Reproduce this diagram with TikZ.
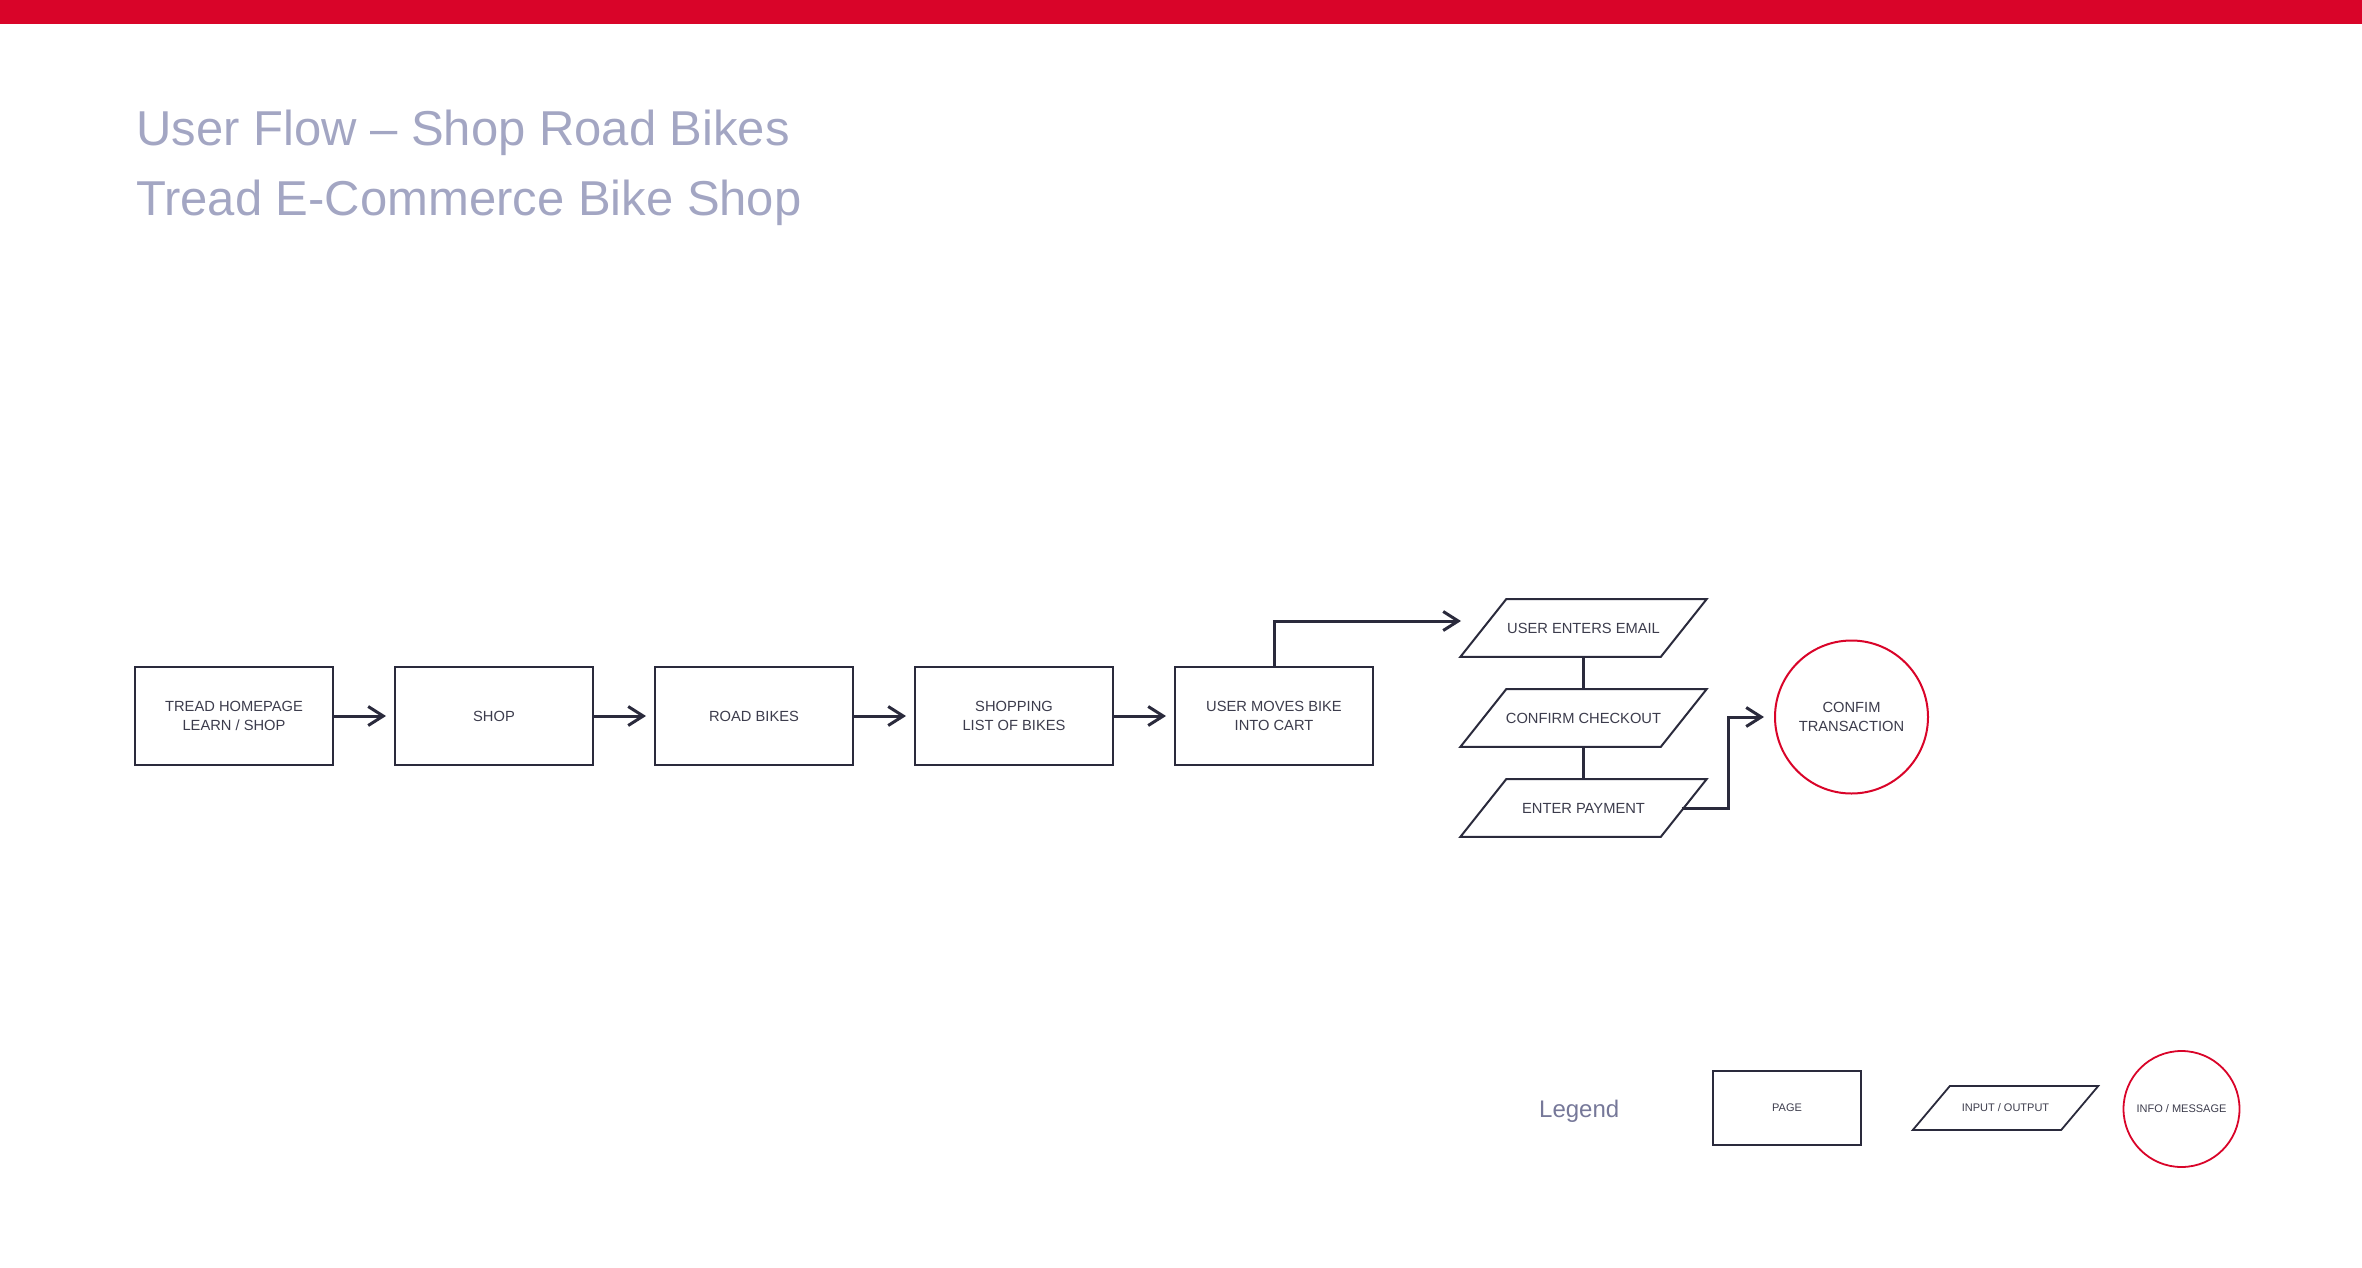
\documentclass[tikz,border=0pt]{standalone}
\usepackage{fontspec}
\setmainfont{Liberation Sans}
\usetikzlibrary{arrows.meta}
\definecolor{redbar}{RGB}{217,4,41}
\definecolor{titlec}{RGB}{163,166,195}
\definecolor{legc}{RGB}{118,120,153}
\definecolor{ink}{RGB}{42,42,60}
\definecolor{txt}{RGB}{60,60,76}
\begin{document}
\begin{tikzpicture}[x=1pt,y=-1pt,
 pagebox/.style={draw=ink,line width=2pt,minimum width=198pt,minimum height=98pt,inner sep=0pt,align=center,text=txt,font=\fontsize{14.7}{19.3}\selectfont},
 iobox/.style={minimum width=200pt,minimum height=57.5pt,inner sep=0pt,text=txt,font=\fontsize{14.7}{19.3}\selectfont},
 ioline/.style={draw=ink,line width=2pt,line join=miter},
 infocirc/.style={circle,draw=redbar,line width=2pt,inner sep=0pt,align=center,text=txt},
 arr/.style={draw=ink,line width=3pt,-{Straight Barb[length=15pt,width=19pt]}},
 conn/.style={draw=ink,line width=3pt},
 legtext/.style={font=\fontsize{11}{13}\selectfont,text=txt}
]
\useasboundingbox (0,0) rectangle (2362,1267);
\fill[redbar] (0,0) rectangle (2362,24);
\node[anchor=base west,inner sep=0pt,text=titlec,font=\fontsize{49}{58}\selectfont] (t1) at (136,145) {User Flow – Shop Road Bikes};
\node[anchor=base west,inner sep=0pt,text=titlec,font=\fontsize{49}{58}\selectfont] (t2) at (136,215) {Tread E-Commerce Bike Shop};

\node[pagebox] (b1) at (234,716) {TREAD HOMEPAGE\\LEARN / SHOP};
\node[pagebox] (b2) at (494,716) {SHOP};
\node[pagebox] (b3) at (754,716) {ROAD BIKES};
\node[pagebox] (b4) at (1014,716) {SHOPPING\\LIST OF BIKES};
\node[pagebox] (b5) at (1274,716) {USER MOVES BIKE\\INTO CART};

\node[iobox] (p1) at (1583.5,628) {USER ENTERS EMAIL};
\node[iobox] (p2) at (1583.5,718) {CONFIRM CHECKOUT};
\node[iobox] (p3) at (1583.5,808) {ENTER PAYMENT};
\foreach \p in {p1,p2,p3}
  \draw[ioline] ([xshift=-23pt]\p.south west) -- ([xshift=-23pt]\p.south east) -- ([xshift=23pt]\p.north east) -- ([xshift=23pt]\p.north west) -- cycle;

\node[infocirc,minimum size=153pt,font=\fontsize{14.7}{19.3}\selectfont] (c1) at (1851.5,717) {CONFIM\\TRANSACTION};

\draw[arr] (b1.east) -- ([xshift=-8pt]b2.west);
\draw[arr] (b2.east) -- ([xshift=-8pt]b3.west);
\draw[arr] (b3.east) -- ([xshift=-8pt]b4.west);
\draw[arr] (b4.east) -- ([xshift=-8pt]b5.west);
\coordinate (e1) at (1461,621);
\draw[arr] (b5.north) |- (e1);
\draw[conn] (p1.south) -- (p2.north);
\draw[conn] (p2.south) -- (p3.north);
\coordinate (k1) at (1728,808);
\draw[arr] ([xshift=-2pt]p3.east) -- (k1) |- ([xshift=-10pt]c1.west);

% legend
\node[anchor=base west,inner sep=0pt,text=legc,font=\fontsize{24}{28}\selectfont] (lg) at (1539,1117) {Legend};
\node[draw=ink,line width=1.8pt,minimum width=148pt,minimum height=73.5pt,inner sep=0pt,legtext] (lp) at (1787,1108) {PAGE};
\node[minimum width=148pt,minimum height=43.5pt,inner sep=0pt,legtext] (lio) at (2005.5,1108) {INPUT / OUTPUT};
\draw[ioline,line width=1.8pt] ([xshift=-18.5pt]lio.south west) -- ([xshift=-18.5pt]lio.south east) -- ([xshift=18.5pt]lio.north east) -- ([xshift=18.5pt]lio.north west) -- cycle;
\node[infocirc,line width=1.8pt,minimum size=116pt,legtext] (lc) at (2181.5,1109) {INFO / MESSAGE};
\end{tikzpicture}
\end{document}
